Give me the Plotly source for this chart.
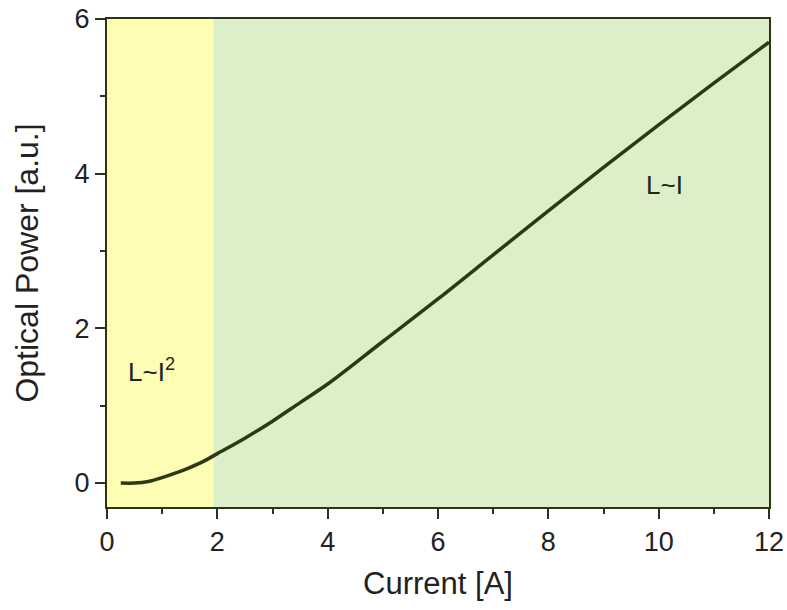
import plotly.graph_objects as go

current = [0.25, 0.5, 0.75, 1.0, 1.25, 1.5, 1.75, 2.0, 2.5, 3.0, 3.5, 4.0, 5.0, 6.0, 7.0, 8.0, 9.0, 10.0, 11.0, 12.0]
power = [0.0, 0.0, 0.02, 0.07, 0.13, 0.2, 0.28, 0.38, 0.58, 0.8, 1.04, 1.28, 1.83, 2.38, 2.95, 3.52, 4.08, 4.63, 5.17, 5.70]
quad_region = [0, 1.93]
lin_region = [1.93, 12]

fig = go.Figure()
fig.add_vrect(x0=quad_region[0], x1=quad_region[1], fillcolor="#FDFDB4", opacity=1, line_width=0, layer="below")
fig.add_vrect(x0=lin_region[0], x1=lin_region[1], fillcolor="#DDEFC9", opacity=1, line_width=0, layer="below")
fig.add_trace(go.Scatter(x=current, y=power, mode="lines", line=dict(color="#2B3A12", width=3.5, shape="spline"), showlegend=False))

fig.add_annotation(x=0.8, y=1.45, text="L~I<sup>2</sup>", showarrow=False, font=dict(size=26, color="#222"))
fig.add_annotation(x=10.1, y=3.85, text="L~I", showarrow=False, font=dict(size=26, color="#222"))

axis_common = dict(showgrid=False, zeroline=False, showline=True, linecolor="#2B3318", linewidth=2,
                   ticks="outside", ticklen=10, tickwidth=2, tickcolor="#2B3318",
                   tickfont=dict(size=27, color="#222"), mirror=True, automargin=False)
fig.update_xaxes(range=[0, 12], dtick=2, tick0=0,
                 minor=dict(dtick=1, ticks="outside", ticklen=5, tickwidth=2, tickcolor="#2B3318"),
                 title=dict(text="Current [A]", font=dict(size=31, color="#222"), standoff=16),
                 **axis_common)
fig.update_yaxes(range=[-0.31, 6], dtick=2, tick0=0,
                 minor=dict(dtick=1, ticks="outside", ticklen=5, tickwidth=2, tickcolor="#2B3318"),
                 title=dict(text="Optical Power [a.u.]", font=dict(size=32, color="#222"), standoff=26),
                 **axis_common)
fig.update_layout(width=787, height=610, margin=dict(l=107, r=18, t=19, b=103),
                  plot_bgcolor="white", paper_bgcolor="white",
                  font=dict(family="Liberation Sans, Arial, sans-serif"))
fig.write_html("out.html")
